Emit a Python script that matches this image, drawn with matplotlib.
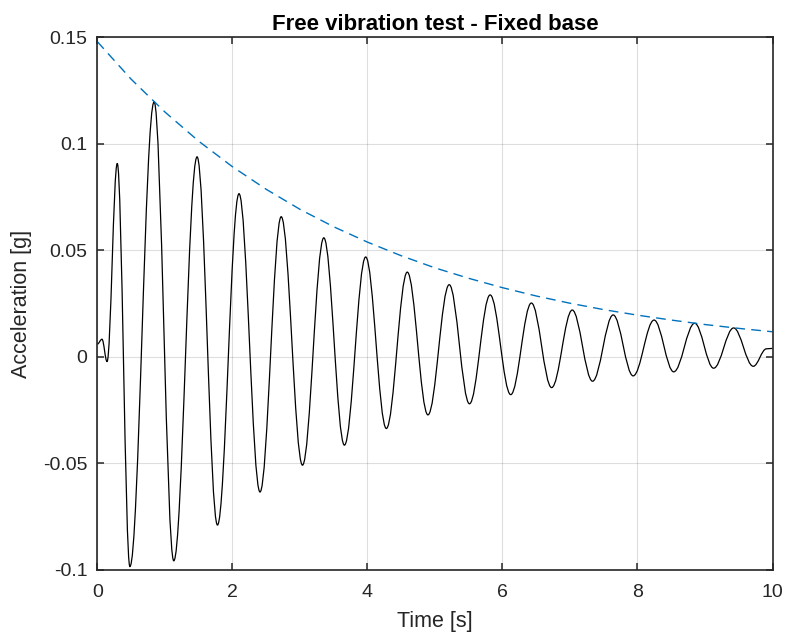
import matplotlib
matplotlib.use("Agg")
import matplotlib.pyplot as plt
from matplotlib.path import Path
from matplotlib.patches import PathPatch

plt.rcParams['font.family'] = ['Liberation Sans', 'DejaVu Sans']
plt.rcParams['axes.unicode_minus'] = False

peak_time = [0.00, 0.07, 0.145, 0.296, 0.483, 0.842, 1.133, 1.478, 1.780, 2.099,
             2.410, 2.724, 3.039, 3.355, 3.660, 3.975, 4.281, 4.591, 4.897, 5.212,
             5.512, 5.818, 6.123, 6.429, 6.729, 7.034, 7.335, 7.640, 7.936, 8.246,
             8.537, 8.847, 9.128, 9.424, 9.715, 9.910, 10.00]
peak_acc = [0.0060, 0.0083, -0.0022, 0.0908, -0.0984, 0.1197, -0.0957, 0.0939, -0.0789, 0.0766,
            -0.0634, 0.0658, -0.0508, 0.0559, -0.0414, 0.0469, -0.0336, 0.0398, -0.0272, 0.0339,
            -0.0220, 0.0291, -0.0177, 0.0253, -0.0144, 0.0220, -0.0114, 0.0197, -0.0089, 0.0173,
            -0.0070, 0.0158, -0.0053, 0.0136, -0.0044, 0.0038, 0.0040]

# decay envelope (dashed), read every 0.5 s
env_time = [0.0, 0.5, 1.0, 1.5, 2.0, 2.5, 3.0, 3.5, 4.0, 4.5, 5.0,
            5.5, 6.0, 6.5, 7.0, 7.5, 8.0, 8.5, 9.0, 9.5, 10.0]
env_acc = [0.1480, 0.1304, 0.1150, 0.1013, 0.0893, 0.0787, 0.0693, 0.0611, 0.0539, 0.0475, 0.0418,
           0.0369, 0.0325, 0.0286, 0.0252, 0.0222, 0.0196, 0.0173, 0.0152, 0.0134, 0.0118]

xticks = [0, 2, 4, 6, 8, 10]
yticks = [-0.1, -0.05, 0, 0.05, 0.1, 0.15]
ytick_labels = ['-0.1', '-0.05', '0', '0.05', '0.1', '0.15']

fig = plt.figure(figsize=(7.87, 6.40), dpi=100)
ax = fig.add_axes([0.1236, 0.1094, 0.8580, 0.8323])

# smooth signal: cubic segments between turning points, flat tangent at each extremum
verts = [(peak_time[0], peak_acc[0])]
codes = [Path.MOVETO]
for i in range(1, len(peak_time)):
    t0, a0 = peak_time[i - 1], peak_acc[i - 1]
    t1, a1 = peak_time[i], peak_acc[i]
    d = t1 - t0
    verts += [(t0 + 0.3642 * d, a0), (t1 - 0.3642 * d, a1), (t1, a1)]
    codes += [Path.CURVE4] * 3
ax.add_patch(PathPatch(Path(verts, codes), facecolor='none', edgecolor='black', lw=0.9))

ax.plot(env_time, env_acc, linestyle=(0, (7, 4.5)), color='#0072BD', lw=1.0)

ax.set_xlim(0, 10)
ax.set_ylim(-0.1, 0.15)
ax.set_xticks(xticks)
ax.set_xticklabels([str(t) for t in xticks])
ax.set_yticks(yticks)
ax.set_yticklabels(ytick_labels)
ax.grid(True, color='#262626', alpha=0.15, lw=0.8)
ax.set_axisbelow(True)
ax.tick_params(direction='in', top=True, right=True, length=5, width=1.1,
               labelsize=14, colors='#262626', pad=7)
ax.tick_params(axis='x', pad=10)
for s in ax.spines.values():
    s.set_linewidth(1.2)
    s.set_color('#262626')

ax.set_xlabel('Time [s]', fontsize=15.5, color='#262626', labelpad=7)
ax.set_ylabel('Acceleration [g]', fontsize=15.5, color='#262626', labelpad=8)
ax.set_title('Free vibration test - Fixed base', fontsize=16, fontweight='bold', pad=5)

fig.savefig('out.png', dpi=100)
